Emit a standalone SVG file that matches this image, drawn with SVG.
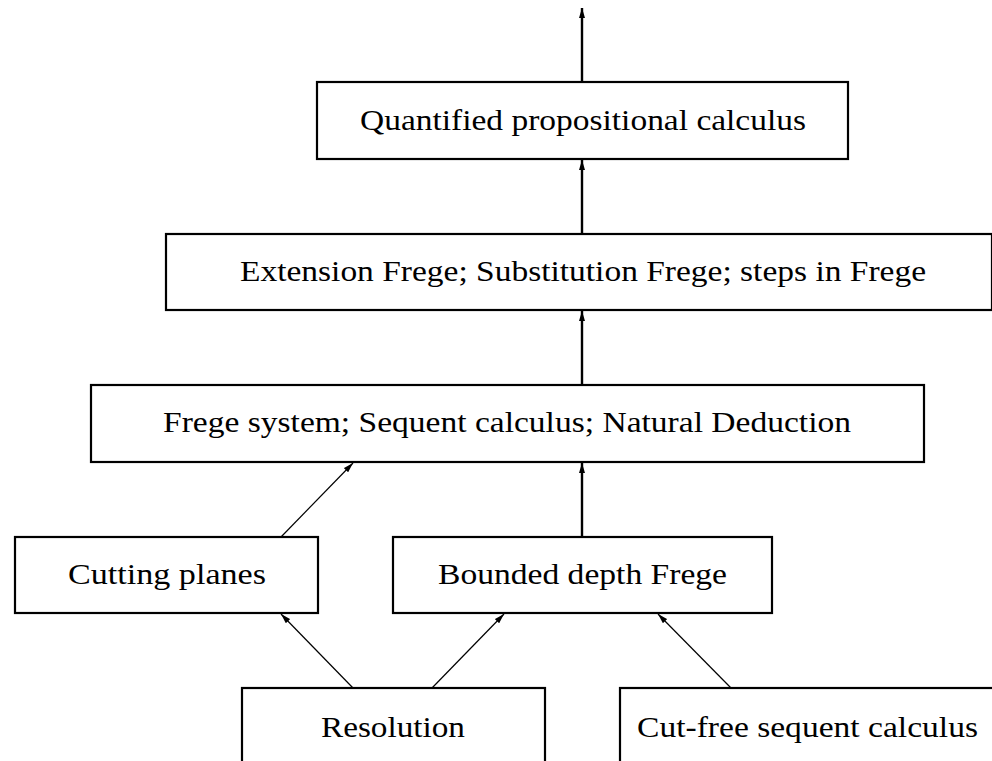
<svg xmlns="http://www.w3.org/2000/svg" width="992" height="761" viewBox="0 0 992 761">
<style>
.box{fill:#fff;stroke:#000;stroke-width:2.2}
.lbl{font-family:"Liberation Serif","Times New Roman","DejaVu Serif",serif;font-size:30px;fill:#000;text-anchor:start}
.thick{stroke:#000;stroke-width:2.4;fill:none}
.thin{stroke:#000;stroke-width:1.2;fill:none}
</style>
<defs>
<marker id="ah" viewBox="0 0 10 6" refX="10" refY="3" markerWidth="10" markerHeight="6" markerUnits="userSpaceOnUse" orient="auto">
<path d="M0,0 L10,3 L0,6 Z" fill="#000"/>
</marker>
</defs>
<g id="connectors">
<line class="thick" x1="582" y1="82" x2="582" y2="8" marker-end="url(#ah)"/>
<line class="thick" x1="582" y1="234" x2="582" y2="160" marker-end="url(#ah)"/>
<line class="thick" x1="582" y1="385" x2="582" y2="311" marker-end="url(#ah)"/>
<line class="thick" x1="582" y1="537" x2="582" y2="463" marker-end="url(#ah)"/>
<line class="thin" x1="281" y1="537" x2="353" y2="463" marker-end="url(#ah)"/>
<line class="thin" x1="353" y1="688" x2="281" y2="614" marker-end="url(#ah)"/>
<line class="thin" x1="432" y1="688" x2="504" y2="614" marker-end="url(#ah)"/>
<line class="thin" x1="731" y1="688" x2="658" y2="614" marker-end="url(#ah)"/>
</g>
<g id="n-qpc">
<rect class="box" x="317" y="82" width="531" height="77"/>
<text class="lbl" x="360" y="130" textLength="446" lengthAdjust="spacingAndGlyphs">Quantified propositional calculus</text>
</g>
<g id="n-ef">
<rect class="box" x="166" y="234" width="826" height="76"/>
<text class="lbl" x="240" y="281" textLength="686" lengthAdjust="spacingAndGlyphs">Extension Frege; Substitution Frege; steps in Frege</text>
</g>
<g id="n-frege">
<rect class="box" x="91" y="385" width="833" height="77"/>
<text class="lbl" x="163" y="432" textLength="688" lengthAdjust="spacingAndGlyphs">Frege system; Sequent calculus; Natural Deduction</text>
</g>
<g id="n-cp">
<rect class="box" x="15" y="537" width="303" height="76"/>
<text class="lbl" x="68" y="584" textLength="198" lengthAdjust="spacingAndGlyphs">Cutting planes</text>
</g>
<g id="n-bdf">
<rect class="box" x="393" y="537" width="379" height="76"/>
<text class="lbl" x="438" y="584" textLength="289" lengthAdjust="spacingAndGlyphs">Bounded depth Frege</text>
</g>
<g id="n-res">
<rect class="box" x="242" y="688" width="303" height="80"/>
<text class="lbl" x="321" y="737" textLength="144" lengthAdjust="spacingAndGlyphs">Resolution</text>
</g>
<g id="n-cfsc">
<rect class="box" x="620" y="688" width="380" height="80"/>
<text class="lbl" x="637" y="737" textLength="341" lengthAdjust="spacingAndGlyphs">Cut-free sequent calculus</text>
</g>
</svg>
